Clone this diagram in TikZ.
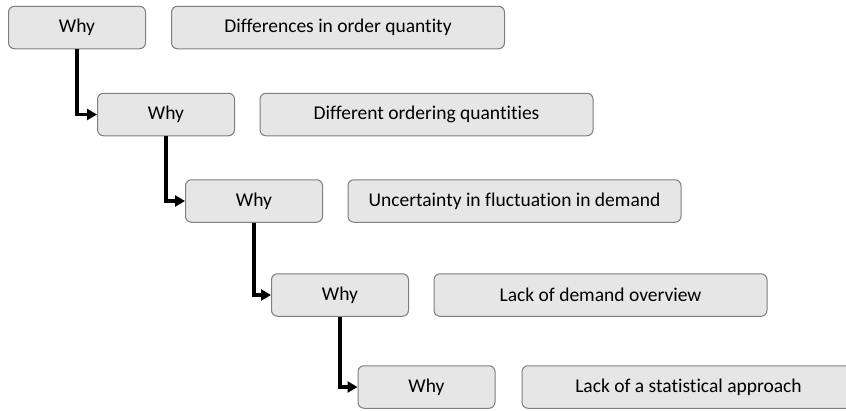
\documentclass[tikz,border=0pt]{standalone}
\usepackage{fontspec}
\setmainfont{Carlito}[Ligatures={NoCommon}]
\usetikzlibrary{arrows.meta}
\definecolor{boxfill}{HTML}{E6E6E6}
\definecolor{boxline}{HTML}{7F7F7F}
\tikzset{
  box/.style={draw=boxline, fill=boxfill, line width=1pt, rounded corners=6pt,
    minimum height=42.5pt, inner sep=0pt, font=\fontsize{19.5}{22}\selectfont, text=black},
  whybox/.style={box, minimum width=137pt},
  ansbox/.style={box, minimum width=333pt},
  arr/.style={draw=black, line width=3.4pt, -{Triangle[length=10pt,width=11pt]}}
}
\begin{document}
\begin{tikzpicture}[x=1pt,y=-1pt]
\useasboundingbox (0,0) rectangle (846,410);
\clip (0,0) rectangle (846,410);
\node[whybox] (w1) at (77,27.5) {Why};
\node[ansbox] (a1) at (338,27.5) {Differences in order quantity};
\node[whybox] (w2) at (166,114.5) {Why};
\node[ansbox] (a2) at (426.5,114.5) {Different ordering quantities};
\node[whybox] (w3) at (254,201) {Why};
\node[ansbox] (a3) at (514.5,201) {Uncertainty in fluctuation in demand};
\node[whybox] (w4) at (340,295) {Why};
\node[ansbox] (a4) at (600.5,295) {Lack of demand overview};
\node[whybox] (w5) at (426.5,387) {Why};
\node[ansbox] (a5) at (688.5,387) {Lack of a statistical approach};
\draw[arr] (w1.south) |- (w2.west);
\draw[arr] (w2.south) |- (w3.west);
\draw[arr] (w3.south) |- (w4.west);
\draw[arr] (w4.south) |- (w5.west);
\end{tikzpicture}
\end{document}
